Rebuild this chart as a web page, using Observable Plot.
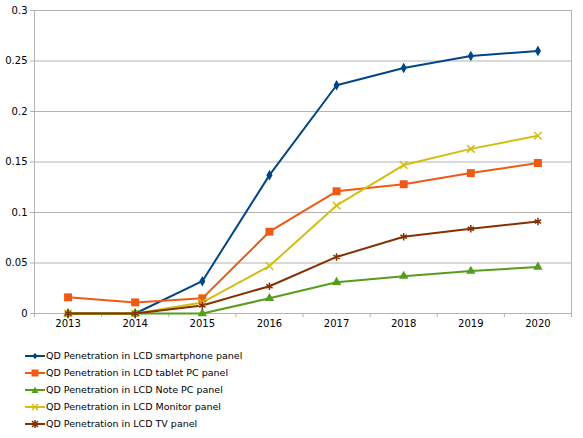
<!DOCTYPE html>
<html>
<head>
<meta charset="utf-8">
<script src="https://cdn.jsdelivr.net/npm/d3@7"></script>
<script src="https://cdn.jsdelivr.net/npm/@observablehq/plot@0.6"></script>
<style>
  body { margin: 0; background: #fff; font-family: "DejaVu Sans", Verdana, sans-serif; }
  #legend { margin-left: 25px; margin-top: 12px; font-size: 9.5px; color: #000; }
  .item { display: flex; align-items: center; height: 17px; }
  .item svg { margin-right: 1px; }
</style>
</head>
<body>
<div id="chart"></div>
<div id="legend"></div>
<script>
const years = [2013, 2014, 2015, 2016, 2017, 2018, 2019, 2020];
const seriesNames = [
  "QD Penetration in LCD smartphone panel",
  "QD Penetration in LCD tablet PC panel",
  "QD Penetration in LCD Note PC panel",
  "QD Penetration in LCD Monitor panel",
  "QD Penetration in LCD TV panel"
];
const smartphone = [0, 0, 0.032, 0.137, 0.226, 0.243, 0.255, 0.260];
const tabletPC   = [0.016, 0.011, 0.015, 0.081, 0.121, 0.128, 0.139, 0.149];
const notePC     = [0, 0, 0, 0.015, 0.031, 0.037, 0.042, 0.046];
const monitor    = [0, 0, 0.011, 0.047, 0.107, 0.147, 0.163, 0.176];
const tv         = [0, 0, 0.008, 0.027, 0.056, 0.076, 0.084, 0.091];
const yTicks = [0, 0.05, 0.1, 0.15, 0.2, 0.25, 0.3];

const colors = ["#004586", "#ee5a14", "#579d1c", "#d2be10", "#843000"];
const symbols = ["diamond", "square", "triangle", "times", "asterisk"];
const allValues = [smartphone, tabletPC, notePC, monitor, tv];

const data = [];
seriesNames.forEach((s, i) => years.forEach((yr, j) => data.push({series: s, year: yr, value: allValues[i][j]})));

const bounds = [years[0] - 0.5, ...years.map(y => y + 0.5)];

const chart = Plot.plot({
  width: 583,
  height: 335,
  marginLeft: 34,
  marginRight: 12,
  marginTop: 10,
  marginBottom: 22,
  style: {fontFamily: "DejaVu Sans, Verdana, sans-serif", fontSize: "10px", color: "#000"},
  x: {domain: [years[0] - 0.5, years[years.length - 1] + 0.5]},
  y: {domain: [0, 0.3]},
  color: {domain: seriesNames, range: colors},
  symbol: {domain: seriesNames, range: symbols},
  marks: [
    Plot.gridY(yTicks, {stroke: "#b3b3b3", strokeOpacity: 1}),
    Plot.frame({stroke: "#b3b3b3"}),
    Plot.axisY(yTicks, {tickSize: 4, tickPadding: 3, stroke: "#b3b3b3", tickFormat: d => String(+d.toFixed(2)), label: null}),
    Plot.axisX(years, {tickSize: 0, tickPadding: 6, tickFormat: d => String(d), label: null}),
    Plot.axisX(bounds, {tickSize: 4, stroke: "#b3b3b3", tickFormat: () => "", label: null}),
    Plot.line(data, {x: "year", y: "value", z: "series", stroke: "series", strokeWidth: 2}),
    Plot.dot(data.filter(d => d.series === seriesNames[0]), {x: "year", y: "value", fill: "series", symbol: "series", r: 3.2}),
    Plot.dot(data.filter(d => d.series === seriesNames[1]), {x: "year", y: "value", fill: "series", symbol: "series", r: 4.5}),
    Plot.dot(data.filter(d => d.series === seriesNames[2]), {x: "year", y: "value", fill: "series", symbol: "series", r: 3.5}),
    Plot.dot(data.filter(d => d.series === seriesNames[3] || d.series === seriesNames[4]), {x: "year", y: "value", stroke: "series", symbol: "series", r: 3.5, strokeWidth: 1.5})
  ]
});
document.getElementById("chart").appendChild(chart);

const legend = document.getElementById("legend");
const shapes = {
  diamond: '<path d="M10,3 L13,6 L10,9 L7,6 Z" fill="C"/>',
  square: '<rect x="6.5" y="2.5" width="7" height="7" fill="C"/>',
  triangle: '<path d="M10,2.5 L13.5,9 L6.5,9 Z" fill="C"/>',
  times: '<path d="M7,3 L13,9 M13,3 L7,9" stroke="C" stroke-width="1.5"/>',
  asterisk: '<path d="M7,3 L13,9 M13,3 L7,9 M10,2 L10,10" stroke="C" stroke-width="1.5"/>'
};
seriesNames.forEach((s, i) => {
  const div = document.createElement("div");
  div.className = "item";
  const sw = `<svg width="20" height="12"><line x1="0" x2="20" y1="6" y2="6" stroke="${colors[i]}" stroke-width="2"/>${shapes[symbols[i]].replace(/C/g, colors[i])}</svg>`;
  div.innerHTML = sw + `<span>${s}</span>`;
  legend.appendChild(div);
});
</script>
</body>
</html>
